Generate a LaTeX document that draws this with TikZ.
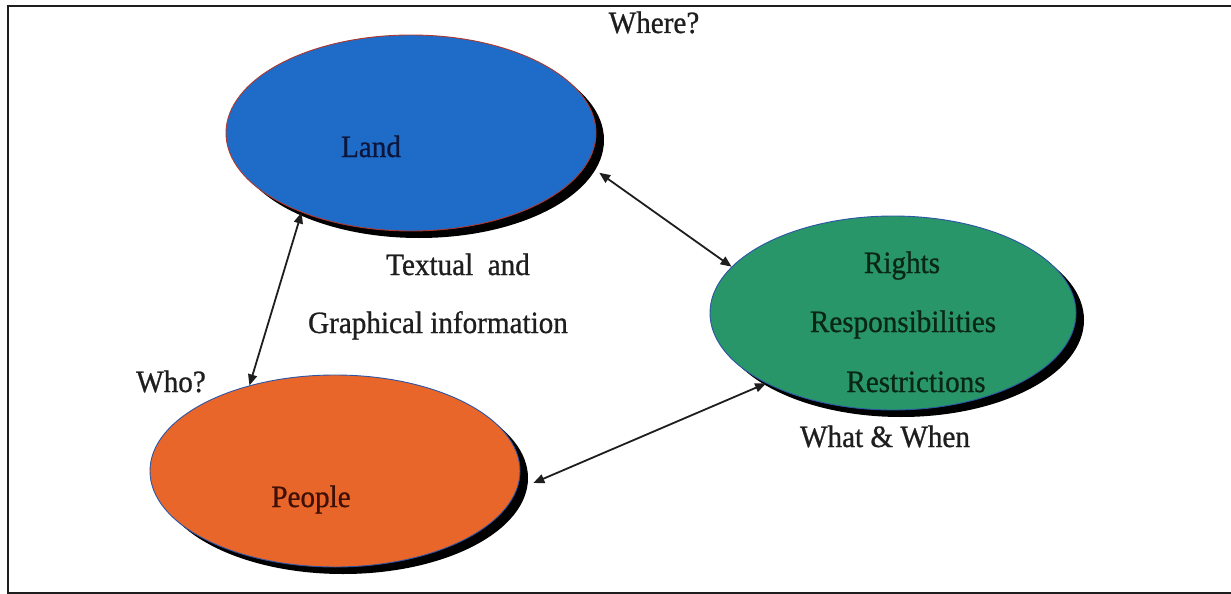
\documentclass[tikz,border=0pt]{standalone}
\usepackage{fontspec}
\setmainfont[FakeStretch=0.94,FakeBold=0.8]{Liberation Serif}
\usetikzlibrary{arrows.meta,shapes.geometric,shadows}

\definecolor{landblue}{RGB}{31,108,200}
\definecolor{rightsgreen}{RGB}{40,150,104}
\definecolor{peopleorange}{RGB}{233,102,42}
\definecolor{rimred}{RGB}{175,55,45}
\definecolor{rimblue}{RGB}{45,85,165}
\definecolor{inkgray}{RGB}{30,30,30}
\definecolor{landink}{RGB}{12,22,60}
\definecolor{rightsink}{RGB}{10,38,22}
\definecolor{peopleink}{RGB}{62,16,6}

\tikzset{
  blob/.style={ellipse, inner sep=0pt, line width=0.9pt,
    drop shadow={shadow xshift=8pt, shadow yshift=-7pt, fill=black, opacity=1}},
  txt/.style={anchor=base, inner sep=0pt, text=inkgray,
    font=\fontsize{31}{36}\selectfont},
  link/.style={line width=1.8pt, draw=inkgray,
    {Triangle[length=11pt,width=9pt]}-{Triangle[length=11pt,width=9pt]}},
  frameline/.style={line width=1.8pt, draw=inkgray}
}

\begin{document}
\begin{tikzpicture}[x=1pt,y=-1pt]
  \useasboundingbox (0,0) rectangle (1231,594);
  \fill[white] (0,0) rectangle (1231,594);

  % frame
  \draw[frameline] (1235,6) -- (8,6) -- (8,594);
  \draw[frameline] (8,593) -- (1235,593);

  % the three ellipses
  \node[blob, fill=landblue, draw=rimred, minimum width=370pt, minimum height=196pt]
    (land) at (411,133) {};
  \node[blob, fill=rightsgreen, draw=rimblue, minimum width=366pt, minimum height=194pt]
    (rights) at (893,313) {};
  \node[blob, fill=peopleorange, draw=rimblue, minimum width=370pt, minimum height=192pt]
    (people) at (335,471) {};

  % texts inside the ellipses
  \node[txt, text=landink] (landtxt) at (371,157) {Land};
  \node[txt, text=rightsink] (rightstxt) at (902,273) {Rights};
  \node[txt, text=rightsink] (resptxt) at (903,332) {Responsibilities};
  \node[txt, text=rightsink] (restrtxt) at (916,392) {Restrictions};
  \node[txt, text=peopleink] (peopletxt) at (311,507) {People};

  % questions and notes
  \node[txt] (where) at (654,33) {Where?};
  \node[txt] (textual) at (458,275) {Textual\ \ and};
  \node[txt] (graphical) at (438,333) {Graphical information};
  \node[txt] (who) at (171,392) {Who?};
  \node[txt] (whatwhen) at (885,447) {What \& When};

  % connectors
  \draw[link] (land.216) -- (people.135);
  \draw[link, shorten <=15pt] (land.-10) -- (rights.164.5);
  \draw[link, shorten <=18pt] (people.-6) -- (rights.209.6);
\end{tikzpicture}
\end{document}
